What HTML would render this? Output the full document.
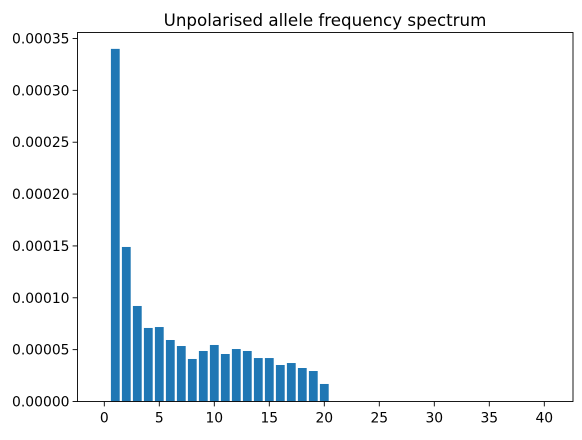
<!DOCTYPE html>
<html><head><meta charset="utf-8"><style>
body{margin:0;background:#fff;}
svg text{font-family:"DejaVu Sans","Liberation Sans",sans-serif;fill:#000;}
</style></head><body>
<svg id="chart" width="582" height="435" xmlns="http://www.w3.org/2000/svg">
<rect width="582" height="435" fill="#fff"/>
<text x="325" y="26" font-size="16.7" text-anchor="middle">Unpolarised allele frequency spectrum</text>
<g id="bars"></g>
<g id="axes"></g>
</svg>
<script>
const categories=[1,2,3,4,5,6,7,8,9,10,11,12,13,14,15,16,17,18,19,20];
const values=[0.00034,0.000149,0.0000921,0.0000709,0.0000718,0.0000593,0.0000535,0.000041,0.0000487,0.0000545,0.0000458,0.0000506,0.0000487,0.0000419,0.0000419,0.0000352,0.0000371,0.0000323,0.0000294,0.0000169];
const xTicks=[0,5,10,15,20,25,30,35,40];
const yTicks=[0,0.00005,0.0001,0.00015,0.0002,0.00025,0.0003,0.00035];
const yTickLabels=["0.00000","0.00005","0.00010","0.00015","0.00020","0.00025","0.00030","0.00035"];
const L=77.5,R=573,T=32.5,B=401.5;
const X=v=>104.3+v*11;
const Y=v=>B-v*(363/0.00035);
const ns="http://www.w3.org/2000/svg";
const bars=document.getElementById('bars'),axes=document.getElementById('axes');
function mk(t,a,p){const e=document.createElementNS(ns,t);for(const k in a)e.setAttribute(k,a[k]);p.appendChild(e);return e;}
categories.forEach((c,i)=>{
 const r=mk('rect',{x:X(c-0.4),y:Y(values[i]),width:X(0.8)-X(0),height:B-Y(values[i]),fill:'#1f77b4'},bars);
 
 
});
const f=mk('rect',{x:L,y:T,width:R-L,height:B-T,fill:'none',stroke:'#000','stroke-width':0.9},axes);


xTicks.forEach(t=>{
 mk('line',{x1:X(t),x2:X(t),y1:B,y2:B+4.9,stroke:'#000','stroke-width':0.9},axes);
 const tx=mk('text',{x:X(t),y:B+21,'font-size':13.9,'text-anchor':'middle'},axes);
 tx.textContent=t;
 
 
});
yTicks.forEach((t,i)=>{
 mk('line',{x1:L-4.9,x2:L,y1:Y(t),y2:Y(t),stroke:'#000','stroke-width':0.9},axes);
 const tx=mk('text',{x:L-8,y:Y(t)+5,'font-size':13.9,'text-anchor':'end'},axes);
 tx.textContent=yTickLabels[i];
 
 
});
</script>
</body></html>
